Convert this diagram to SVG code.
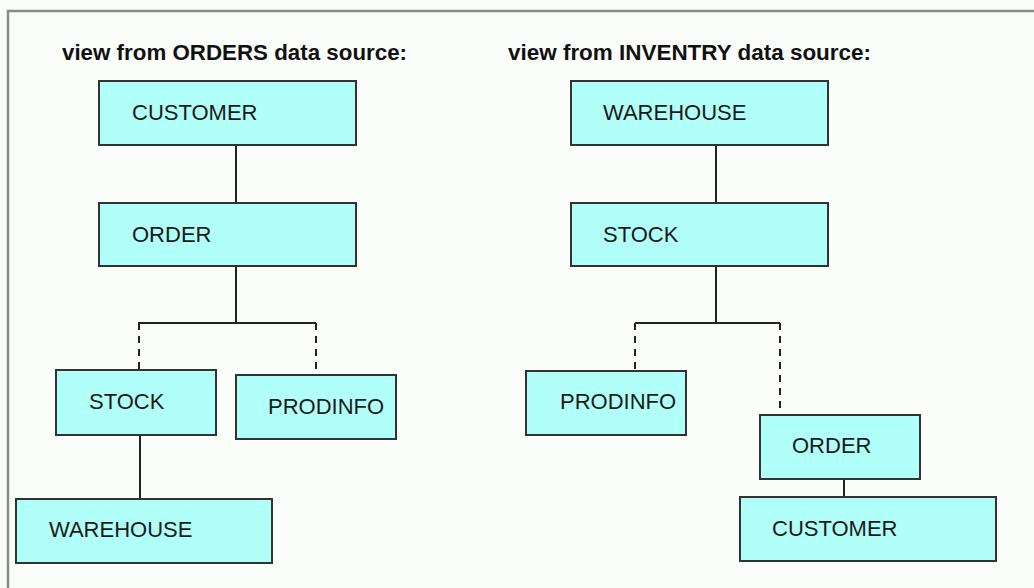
<svg xmlns="http://www.w3.org/2000/svg" width="1034" height="588" viewBox="0 0 1034 588">
<style>
.bg{fill:#fbfdfb}
.frame{fill:none;stroke:#8a8a8a;stroke-width:2.5}
.box{fill:#b0fff8;stroke:#333;stroke-width:2}
.lbl{font-family:"Liberation Sans",Arial,sans-serif;font-size:22px;fill:#1a1a1a}
.ttl{font-family:"Liberation Sans",Arial,sans-serif;font-size:22px;font-weight:bold;fill:#111}
.ln{fill:none;stroke:#222;stroke-width:2}
.dash{fill:none;stroke:#222;stroke-width:2;stroke-dasharray:7,6}
</style>
<rect class="bg" x="0" y="0" width="1034" height="588"/>
<path class="frame" d="M8,588 V11 H1034"/>
<text class="ttl" x="62" y="60" textLength="345" lengthAdjust="spacingAndGlyphs">view from ORDERS data source:</text>
<text class="ttl" x="508" y="60" textLength="363" lengthAdjust="spacingAndGlyphs">view from INVENTRY data source:</text>
<g id="connectors">
<path class="ln" d="M236,145 V203"/>
<path class="ln" d="M236,266 V323 M138,323 H316"/>
<path class="dash" d="M139,323 V370"/>
<path class="dash" d="M316,323 V375"/>
<path class="ln" d="M140,435 V499"/>
<path class="ln" d="M716,145 V203"/>
<path class="ln" d="M716,266 V323 M635,323 H780"/>
<path class="dash" d="M635,323 V371"/>
<path class="dash" d="M780,323 V408"/>
<path class="ln" d="M844,479 V497"/>
</g>
<g id="l-customer"><rect class="box" x="99" y="81" width="257" height="64"/><text class="lbl" x="132" y="120">CUSTOMER</text></g>
<g id="l-order"><rect class="box" x="99" y="203" width="257" height="63"/><text class="lbl" x="132" y="242">ORDER</text></g>
<g id="l-stock"><rect class="box" x="56" y="370" width="160" height="65"/><text class="lbl" x="89" y="409">STOCK</text></g>
<g id="l-prodinfo"><rect class="box" x="236" y="375" width="160" height="64"/><text class="lbl" x="268" y="414">PRODINFO</text></g>
<g id="l-warehouse"><rect class="box" x="16" y="499" width="256" height="64"/><text class="lbl" x="49" y="537">WAREHOUSE</text></g>
<g id="r-warehouse"><rect class="box" x="571" y="81" width="257" height="64"/><text class="lbl" x="603" y="120">WAREHOUSE</text></g>
<g id="r-stock"><rect class="box" x="571" y="203" width="257" height="63"/><text class="lbl" x="603" y="242">STOCK</text></g>
<g id="r-prodinfo"><rect class="box" x="526" y="371" width="160" height="64"/><text class="lbl" x="560" y="409">PRODINFO</text></g>
<g id="r-order"><rect class="box" x="760" y="415" width="160" height="64"/><text class="lbl" x="792" y="453">ORDER</text></g>
<g id="r-customer"><rect class="box" x="740" y="497" width="256" height="64"/><text class="lbl" x="772" y="536">CUSTOMER</text></g>
</svg>
